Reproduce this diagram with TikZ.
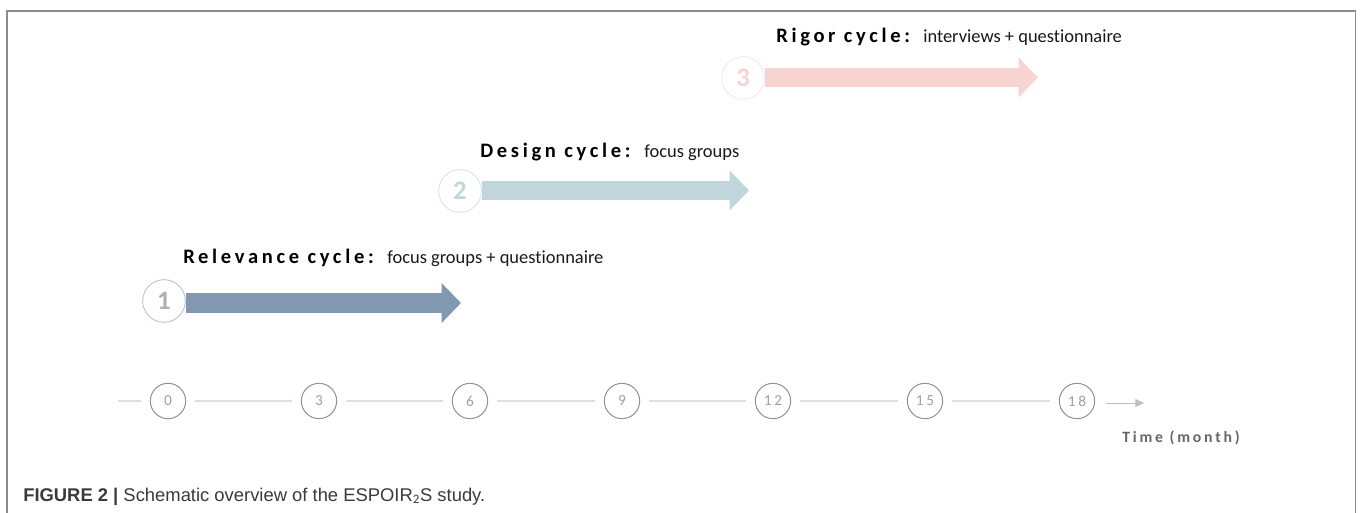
\documentclass[tikz,border=0pt]{standalone}
\usepackage{fontspec}
\setmainfont[Ligatures=NoCommon]{Carlito}
\newfontfamily\capfont{Liberation Sans}
\newfontfamily\headfont[LetterSpace=18,Ligatures=NoCommon]{Carlito}
\usetikzlibrary{arrows.meta}
\definecolor{frameC}{HTML}{8C8C8C}
\definecolor{oneC}{HTML}{8297B2}
\definecolor{twoC}{HTML}{C1D5DC}
\definecolor{threeC}{HTML}{F7D4D1}
\definecolor{ringTwo}{HTML}{D8E5EA}
\definecolor{ringThree}{HTML}{FAE6E4}
\definecolor{ringOne}{HTML}{B9C4D2}
\definecolor{numOne}{HTML}{B0B0B0}
\definecolor{tickRing}{HTML}{8A93A3}
\definecolor{tickLine}{HTML}{DDE0E3}
\definecolor{tickNum}{HTML}{A0A0A0}
\definecolor{capC}{HTML}{3A3A3A}
\tikzset{
  x=0.75pt,y=-0.75pt,
  bigcircle/.style={circle,draw=#1,line width=0.7pt,fill=white,minimum size=32pt,inner sep=0pt,font=\fontsize{20}{20}\selectfont\bfseries},
  bigarrow/.style={draw=#1,line width=14.5pt,-{Triangle[length=14.5pt,width=29pt,fill=#1,color=#1]}},
  tick/.style={circle,draw=tickRing,line width=0.75pt,minimum size=26.5pt,inner sep=0pt,text=tickNum,font=\headfont\fontsize{11.5}{11.5}\selectfont},
  tickline/.style={draw=tickLine,line width=0.9pt,yshift=0.75pt,shorten >=6.5pt,shorten <=6.5pt},
  headtxt/.style={anchor=base west,inner sep=0pt,font=\headfont\fontsize{15.4}{15.4}\selectfont\bfseries,text=black},
  subtxt/.style={anchor=base west,inner sep=0pt,font=\fontsize{13.85}{13.85}\selectfont,text=black!90},
}
\begin{document}
\begin{tikzpicture}
\useasboundingbox (0,0) rectangle (1360,513);
\draw[frameC,line width=0.9pt] (7,513) -- (7,11) -- (1355.5,11) -- (1355.5,513);
% cycle 1
\node[bigcircle=ringOne,text=numOne] (n1) at (164,301) {1};
\coordinate (t1) at (461,303);
\draw[bigarrow=oneC] (n1.east |- t1) -- (t1);
\node[headtxt] (h1) at (183,264) {Relevance cycle:};
\node[subtxt] (s1) at (387,264) {focus groups + questionnaire};
% cycle 2
\node[bigcircle=ringTwo,text=twoC] (n2) at (460,191) {2};
\coordinate (t2) at (749,190.5);
\draw[bigarrow=twoC] (n2.east |- t2) -- (t2);
\node[headtxt] (h2) at (480,158) {Design cycle:};
\node[subtxt] (s2) at (644,158) {focus groups};
% cycle 3
\node[bigcircle=ringThree,text=threeC] (n3) at (743,78) {3};
\coordinate (t3) at (1038,77.5);
\draw[bigarrow=threeC] (n3.east |- t3) -- (t3);
\node[headtxt] (h3) at (776,43) {Rigor cycle:};
\node[subtxt] (s3) at (923,43) {interviews + questionnaire};
% timeline
\node[tick] (c0) at (168,401) {0};
\node[tick] (c3) at (319,401) {3};
\node[tick] (c6) at (470,401) {6};
\node[tick] (c9) at (622,401) {9};
\node[tick] (c12) at (773,401) {12};
\node[tick] (c15) at (925,401) {15};
\node[tick] (c18) at (1077,401) {18};
\coordinate (lead) at (118,401);
\coordinate (arrowend) at (1144,403);
\draw[tickline,shorten <=0pt] (lead) -- (c0);
\draw[tickline] (c0) -- (c3);
\draw[tickline] (c3) -- (c6);
\draw[tickline] (c6) -- (c9);
\draw[tickline] (c9) -- (c12);
\draw[tickline] (c12) -- (c15);
\draw[tickline] (c15) -- (c18);
\draw[tickLine!85!black,line width=0.7pt,shorten <=8pt,-{Triangle[length=6.5pt,width=6pt]}] (c18.east |- arrowend) -- (arrowend);
\node[anchor=base west,inner sep=0pt,text=black!60,font=\headfont\fontsize{11.8}{11.8}\selectfont\bfseries] (tl) at (1122,442) {Time (month)};
% caption
\node[anchor=base west,inner sep=0pt,text=capC,font=\capfont\fontsize{13.8}{13.8}\selectfont] (cap) at (23,501) {\textbf{FIGURE 2 |} Schematic overview of the ESPOIR$_{\mathrm{2}}$S study.};
\end{tikzpicture}
\end{document}
